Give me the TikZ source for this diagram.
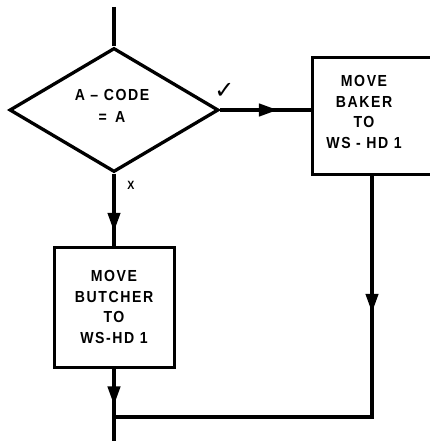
\documentclass[tikz,border=0pt]{standalone}
\usepackage{fontspec}
\setmainfont{Liberation Sans}[LetterSpace=10,FakeStretch=0.88]
\newfontfamily\symf{DejaVu Sans}
\usetikzlibrary{shapes.geometric,decorations.markings,arrows.meta}
\begin{document}
\begin{tikzpicture}[x=1pt,y=-1pt,line join=miter,
  flow/.style={line width=4pt},
  arr/.style={postaction={decorate},decoration={markings,mark=at position #1 with {\arrow{Triangle[length=19pt,width=12pt]}}}},
  boxs/.style={draw,line width=3pt,rectangle,inner sep=0pt,minimum width=120pt},
  lbl/.style={font=\bfseries\fontsize{16}{20.7}\selectfont,align=center,inner sep=0pt},
  dec/.style={draw,line width=3.3pt,diamond,inner sep=0pt,minimum width=209pt,minimum height=124pt}]
\useasboundingbox (0,0) rectangle (430,441);
% shapes
\node[dec] (dec) at (114,110) {};
\node[lbl] (dtxt) at (112,106) {A – CODE\\[2pt]=\ \,A};
\node[boxs,minimum height=116pt] (bk) at (372,116) {};
\node[lbl] (bktxt) at (364,112) {MOVE\\BAKER\\TO\\WS - HD 1};
\node[boxs,minimum height=120pt,lbl,draw,line width=3pt] (bt) at (114,307) {MOVE\\BUTCHER\\TO\\WS-HD 1};
\node[font=\symf\fontsize{24}{24}\selectfont,inner sep=0pt] (ck) at (224.5,90.5) {✓};
\node[font=\bfseries\fontsize{12}{12}\selectfont,inner sep=0pt] (xl) at (131,185) {X};
% coordinates
\coordinate (top) at (114,7);
\coordinate (join) at (372,417);
\coordinate (merge) at (114,417);
\coordinate (out) at (114,441);
% connectors
\draw[flow] (top) -- (dec.north);
\draw[flow,arr=0.64] (dec.east) -- (dec.east -| bk.west);
\draw[flow,arr=0.81] (dec.south) -- (bt.north);
\draw[flow,arr=0.275] (bk.south) -- (join) -- (merge);
\draw[flow,arr=0.51] (bt.south) -- (out);
\end{tikzpicture}
\end{document}
